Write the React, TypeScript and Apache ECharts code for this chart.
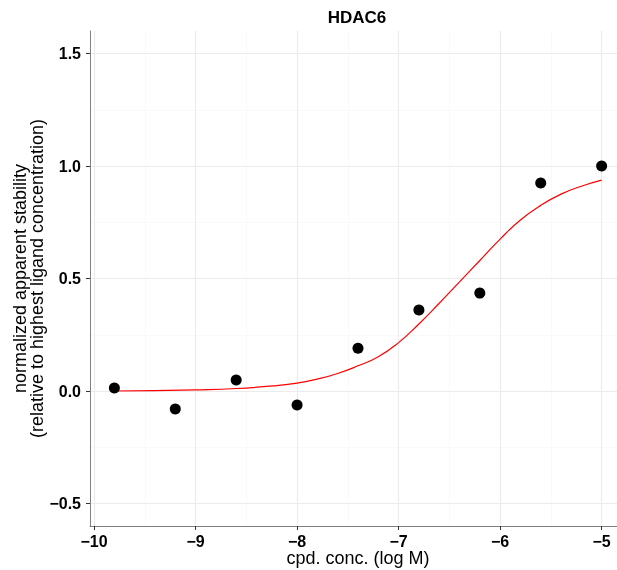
import React, { useEffect, useRef } from 'react';
import * as echarts from 'echarts';

const chartTitle = 'HDAC6';
const xAxisTitle = 'cpd. conc. (log M)';
const yAxisTitle = 'normalized apparent stability\n(relative to highest ligand concentration)';

const xTicks = [-10, -9, -8, -7, -6, -5];
const xMinorTicks = [-9.5, -8.5, -7.5, -6.5, -5.5];
const yTicks = [-0.5, 0, 0.5, 1, 1.5];
const yMinorTicks = [-0.25, 0.25, 0.75, 1.25];
const xRange = [-10.04, -4.76];
const yRange = [-0.6, 1.6];

// measured points
const concLog = [-9.8, -9.2, -8.6, -8.0, -7.4, -6.8, -6.2, -5.6, -5.0];
const stability = [0.013, -0.08, 0.049, -0.062, 0.19, 0.36, 0.435, 0.924, 1.0];

// fitted curve
const fitConc = [-9.8, -9.4, -9.0, -8.6, -8.2, -8.0, -7.8, -7.6, -7.4, -7.2, -7.0, -6.8, -6.6, -6.4, -6.2, -6.0, -5.8, -5.6, -5.4, -5.2, -5.0];
const fitValue = [0.0, 0.002, 0.005, 0.011, 0.024, 0.035, 0.053, 0.078, 0.112, 0.152, 0.215, 0.298, 0.39, 0.485, 0.58, 0.675, 0.76, 0.825, 0.875, 0.91, 0.937];

const FONT = "'Liberation Sans', Arial, Helvetica, sans-serif";
const minus = (s: string) => s.replace('-', '\u2212');

export default function App() {
  const ref = useRef<HTMLDivElement>(null);
  useEffect(() => {
    if (!ref.current) return;
    const chart = echarts.init(ref.current, null, { renderer: 'svg' });
    const majorStyle = { color: '#ebebeb', width: 1.1, type: 'solid' as const };
    const minorStyle = { color: '#f5f5f5', width: 0.6, type: 'solid' as const };
    const gridLines = [
      ...xMinorTicks.map((v) => ({ xAxis: v, lineStyle: minorStyle })),
      ...yMinorTicks.map((v) => ({ yAxis: v, lineStyle: minorStyle })),
      ...xTicks.map((v) => ({ xAxis: v, lineStyle: majorStyle })),
      ...yTicks.map((v) => ({ yAxis: v, lineStyle: majorStyle })),
    ];
    chart.setOption({
      animation: false,
      textStyle: { fontFamily: FONT },
      grid: { left: 90, width: 536, top: 31, bottom: 44, outerBoundsMode: 'none', containLabel: false },
      graphic: [
        {
          type: 'text',
          x: 357,
          y: 17,
          style: {
            text: chartTitle,
            font: `bold 17px ${FONT}`,
            fill: '#000',
            textAlign: 'center',
            textVerticalAlign: 'middle',
          },
        },
      ],
      xAxis: {
        type: 'value',
        min: xRange[0],
        max: xRange[1],
        z: 5,
        splitLine: { show: false },
        axisLine: { show: true, onZero: false, lineStyle: { color: '#808080', width: 1 } },
        axisTick: { show: true, customValues: xTicks, length: 4, lineStyle: { color: '#333333', width: 1 } },
        axisLabel: {
          customValues: xTicks,
          formatter: (v: number) => minus(String(v)),
          fontWeight: 'bold',
          fontSize: 16,
          color: '#000',
          margin: 7,
          fontFamily: FONT,
        },
        name: xAxisTitle,
        nameLocation: 'middle',
        nameGap: 23,
        nameMoveOverlap: false,
        nameTextStyle: { fontSize: 18, color: '#000', fontFamily: FONT },
      },
      yAxis: {
        type: 'value',
        min: yRange[0],
        max: yRange[1],
        z: 5,
        splitLine: { show: false },
        axisLine: { show: true, onZero: false, lineStyle: { color: '#808080', width: 1 } },
        axisTick: { show: true, customValues: yTicks, length: 4, lineStyle: { color: '#333333', width: 1 } },
        axisLabel: {
          customValues: yTicks,
          formatter: (v: number) => minus(v.toFixed(1)),
          fontWeight: 'bold',
          fontSize: 16,
          color: '#000',
          margin: 9,
          fontFamily: FONT,
        },
        name: yAxisTitle,
        nameLocation: 'middle',
        nameRotate: 90,
        nameGap: 44.5,
        nameMoveOverlap: false,
        nameTextStyle: { fontSize: 18, lineHeight: 17, color: '#000', fontFamily: FONT, align: 'center' },
      },
      series: [
        {
          type: 'line',
          data: [],
          z: 1,
          silent: true,
          markLine: {
            z: 1,
            silent: true,
            symbol: ['none', 'none'],
            label: { show: false },
            emphasis: { disabled: true },
            data: gridLines,
          },
        },
        {
          type: 'line',
          data: fitConc.map((x, i) => [x, fitValue[i]]),
          smooth: 0.5,
          showSymbol: false,
          z: 3,
          lineStyle: { color: '#ff0000', width: 1.2 },
        },
        {
          type: 'scatter',
          data: concLog.map((x, i) => [x, stability[i]]),
          symbolSize: 11,
          z: 4,
          itemStyle: { color: '#000000', opacity: 1 },
        },
      ],
    });
    return () => chart.dispose();
  }, []);
  return <div ref={ref} style={{ position: 'fixed', left: 0, top: 0, width: 617, height: 570 }} />;
}
